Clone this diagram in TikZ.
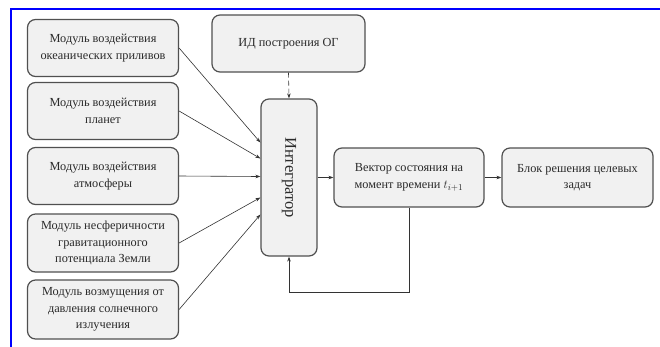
\documentclass[tikz,border=0pt]{standalone}
\usepackage{fontspec}
\setmainfont{Liberation Serif}
\usetikzlibrary{arrows.meta}
\usetikzlibrary{calc}

\definecolor{boxfill}{HTML}{F1F1F1}
\definecolor{boxline}{HTML}{505050}
\definecolor{txt}{HTML}{2A2A2A}

\tikzset{
  module/.style={draw=boxline, fill=boxfill, line width=1.2pt, rounded corners=8pt,
    minimum width=151pt, minimum height=57pt, align=center, text=txt,
    font=\fontsize{12.3}{16.5}\selectfont, inner sep=2pt},
  link/.style={-{Stealth[length=5pt,width=3.5pt]}, draw=black!80, line width=0.6pt}
}

\begin{document}
\begin{tikzpicture}[x=1pt,y=-1pt]
    \useasboundingbox (0,0) rectangle (660,346);
    \draw[blue, line width=2.6pt] (11,347) -- (11,9) -- (661,9);

    % modules on the left
    \node[module] (tide) at (103,48) {Модуль воздействия\\океанических приливов};
    \node[module] (plan) at (103,111) {Модуль воздействия\\планет};
    \node[module] (atm) at (103,176) {Модуль воздействия\\атмосферы};
    \node[module, minimum height=58pt] (grav) at (103,243) {Модуль несферичности\\гравитационного\\потенциала Земли};
    \node[module, minimum height=59pt] (sun) at (103,309.5) {Модуль возмущения от\\давления солнечного\\излучения};

    \node[module, minimum width=153pt] (idog) at (288.5,43.5) {ИД построения ОГ};
    \node[module, minimum width=56pt, minimum height=157pt,
      font=\fontsize{16.5}{18}\selectfont] (integ) at (289,177.5) {\rotatebox{-90}{Интегратор}};
    \node[module, minimum width=150pt, minimum height=59pt] (state) at (409,177.5) {Вектор состояния на\\момент времени $t_{i+1}$};
    \node[module, minimum height=59pt] (task) at (577.5,177.5) {Блок решения целевых\\задач};

    % connectors
    \draw[link] (tide.east) -- ([yshift=35pt]integ.west);
    \draw[link] (plan.east) -- ([yshift=19pt]integ.west);
    \draw[link] (atm.east) -- ([yshift=1pt]integ.west);
    \draw[link] (grav.east) -- ([yshift=-20pt]integ.west);
    \draw[link] (sun.east) -- ([yshift=-37pt]integ.west);
    \draw[link, dashed, dash pattern=on 5pt off 3pt] (idog.south) -- (integ.north);
    \draw[link] (integ.east) -- (state.west);
    \draw[link] (state.east) -- (task.west);
    \coordinate (loop) at (409,292);
    \draw[link] (state.south) -- (loop) -| (integ.south);
\end{tikzpicture}
\end{document}
